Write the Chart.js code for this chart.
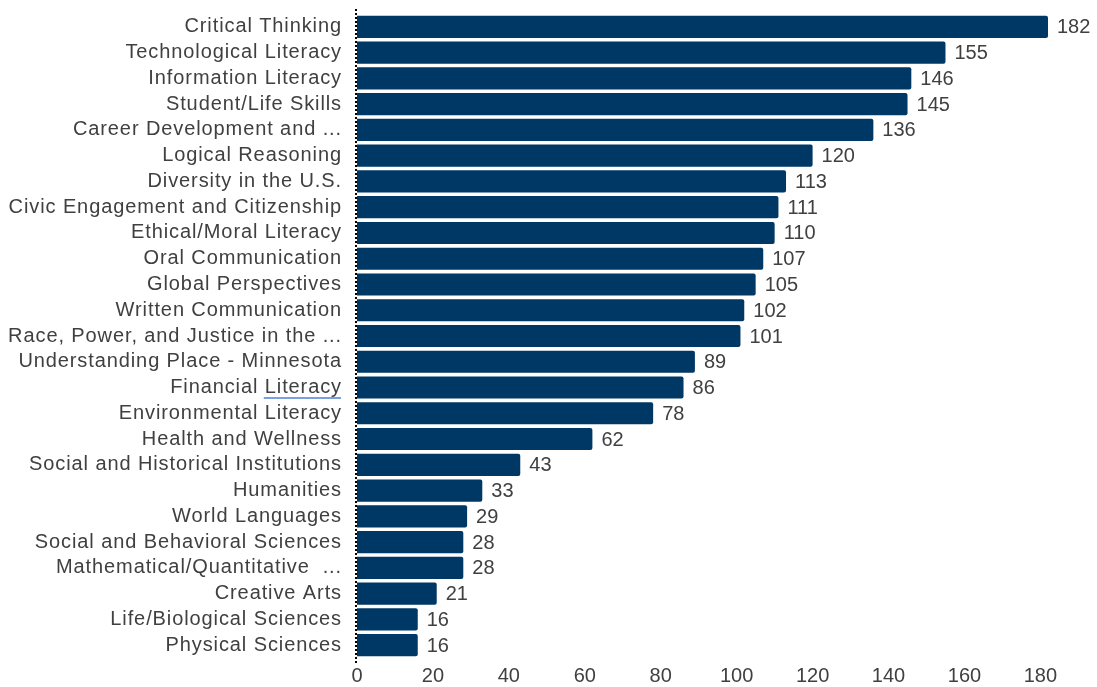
<!DOCTYPE html>
<html lang="en">
<head>
  <meta charset="UTF-8">
  <title>Outcomes</title>
  <script src="https://cdn.jsdelivr.net/npm/chart.js"></script>
  <style>
    html, body { margin: 0; padding: 0; background: #ffffff; }
    #wrap { width: 1097px; height: 687px; position: relative; }
  </style>
</head>
<body>
  <div id="wrap"><canvas id="chart"></canvas></div>

  <script>
    // categories and counts, top to bottom
    const categories = [
      'Critical Thinking', 'Technological Literacy', 'Information Literacy', 'Student/Life Skills',
      'Career Development and ...', 'Logical Reasoning', 'Diversity in the U.S.',
      'Civic Engagement and Citizenship', 'Ethical/Moral Literacy', 'Oral Communication',
      'Global Perspectives', 'Written Communication', 'Race, Power, and Justice in the ...',
      'Understanding Place - Minnesota', 'Financial Literacy', 'Environmental Literacy',
      'Health and Wellness', 'Social and Historical Institutions', 'Humanities', 'World Languages',
      'Social and Behavioral Sciences', 'Mathematical/Quantitative  ...', 'Creative Arts',
      'Life/Biological Sciences', 'Physical Sciences'
    ];
    const counts = [182, 155, 146, 145, 136, 120, 113, 111, 110, 107, 105, 102, 101,
                    89, 86, 78, 62, 43, 33, 29, 28, 28, 21, 16, 16];
    const xTicks = [0, 20, 40, 60, 80, 100, 120, 140, 160, 180];

    const FONT = "'Liberation Sans', Arial, sans-serif";
    const TEXT = '#404040';
    const SPACING = '0.9px';

    // labels on the left are drawn a bit wider, like the original
    const wideLabels = {
      id: 'wideLabels',
      afterLayout(chart) {
        const s = chart.scales.y;
        if (s._wide) return;
        const orig = s.drawLabels.bind(s);
        s.drawLabels = function (area) {
          chart.ctx.save();
          chart.ctx.letterSpacing = SPACING;
          orig(area);
          chart.ctx.restore();
        };
        s._wide = true;
      }
    };

    // dotted vertical axis, a little longer than the plot
    const dottedAxis = {
      id: 'dottedAxis',
      afterDatasetsDraw(chart) {
        const { ctx, chartArea } = chart;
        ctx.save();
        ctx.strokeStyle = '#000000';
        ctx.lineWidth = 2;
        ctx.setLineDash([2, 2]);
        ctx.beginPath();
        ctx.moveTo(chartArea.left - 1, chartArea.top - 5);
        ctx.lineTo(chartArea.left - 1, chartArea.bottom + 5);
        ctx.stroke();
        ctx.restore();
      }
    };

    // value labels after each bar, plus the spell-check underline
    const valueLabels = {
      id: 'valueLabels',
      afterDatasetsDraw(chart) {
        const ctx = chart.ctx;
        const meta = chart.getDatasetMeta(0);
        ctx.save();
        ctx.font = '20px ' + FONT;
        ctx.fillStyle = TEXT;
        ctx.textAlign = 'left';
        ctx.textBaseline = 'middle';
        meta.data.forEach((bar, i) => {
          ctx.fillText(counts[i], bar.x + 9, bar.y + 1);
        });

        const i = categories.indexOf('Financial Literacy');
        const y = chart.scales.y.getPixelForTick(i) + 10.5;
        ctx.letterSpacing = SPACING;
        const right = chart.chartArea.left - 16;
        const w = ctx.measureText('Literacy').width;
        ctx.strokeStyle = '#4f7fd6';
        ctx.lineWidth = 1.5;
        ctx.beginPath();
        ctx.moveTo(right - w, y);
        ctx.lineTo(right, y);
        ctx.stroke();
        ctx.restore();
      }
    };

    const ctx = document.getElementById('chart').getContext('2d');
    new Chart(ctx, {
      type: 'bar',
      data: {
        labels: categories,
        datasets: [{
          data: counts,
          backgroundColor: '#003865',
          borderRadius: 2,
          barPercentage: 0.86,
          categoryPercentage: 1.0
        }]
      },
      options: {
        indexAxis: 'y',
        responsive: true,
        maintainAspectRatio: false,
        animation: false,
        layout: { padding: { top: 14, right: 49, bottom: -7, left: 0 } },
        plugins: {
          legend: { display: false },
          tooltip: { enabled: false }
        },
        scales: {
          x: {
            min: 0,
            max: 182,
            afterBuildTicks(scale) {
              scale.ticks = xTicks.map(v => ({ value: v }));
            },
            grid: { display: false, drawTicks: false },
            border: { display: false },
            ticks: {
              color: TEXT,
              font: { family: FONT, size: 20 },
              padding: 6
            }
          },
          y: {
            grid: { display: false, drawTicks: false },
            border: { display: false },
            afterFit(scale) {
              scale.width = 357;
              scale.paddingTop = 0;
              scale.paddingBottom = 0;
            },
            ticks: {
              autoSkip: false,
              color: TEXT,
              font: { family: FONT, size: 20 },
              padding: 15
            }
          }
        }
      },
      plugins: [wideLabels, dottedAxis, valueLabels]
    });
  </script>
</body>
</html>
